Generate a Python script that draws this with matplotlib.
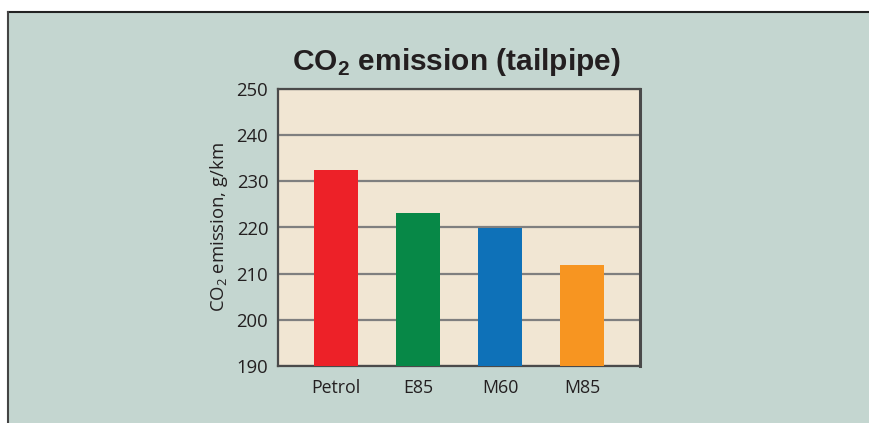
import matplotlib
matplotlib.use("Agg")
import matplotlib.pyplot as plt
import numpy as np

plt.rcParams["mathtext.fontset"] = "custom"
plt.rcParams["mathtext.rm"] = "Open Sans"
plt.rcParams["mathtext.bf"] = "Liberation Sans:bold"

categories = ["Petrol", "E85", "M60", "M85"]
values = [232.4, 223.2, 219.9, 211.8]
bar_colors = ["#ed2128", "#078847", "#0e71b8", "#f79521"]
yticks = [190, 200, 210, 220, 230, 240, 250]

W, H = 869, 423
fig = plt.figure(figsize=(W / 100, H / 100), dpi=100)
fig.patch.set_facecolor("white")

# background panel with top/left border
panel = plt.Rectangle((8 / W, 0), 1 - 8 / W, 1 - 12 / H, transform=fig.transFigure,
                      facecolor="#c4d6d0", edgecolor="none", zorder=-5)
fig.add_artist(panel)
fig.add_artist(plt.Line2D([8 / W, 1], [1 - 12 / H, 1 - 12 / H], transform=fig.transFigure,
                          color="#222222", lw=1.5, zorder=-4))
fig.add_artist(plt.Line2D([8 / W, 8 / W], [0, 1 - 12 / H], transform=fig.transFigure,
                          color="#444444", lw=1.5, zorder=-4))

left, right, top, bottom = 278, 640, 89, 366
ax = fig.add_axes([left / W, 1 - bottom / H, (right - left) / W, (bottom - top) / H])
ax.set_zorder(1)
ax.set_facecolor("#f1e6d3")

x = np.arange(len(categories))
ax.bar(x, [v - 190 for v in values], bottom=190, width=0.54, color=bar_colors, zorder=3)
ax.set_xlim(-0.707, 3.707)
ax.set_ylim(190, 250)
ax.set_yticks(yticks)
ax.set_xticks(x)
ax.set_xticklabels(categories)
ax.yaxis.grid(True, color="#7f7f7f", lw=1.6, zorder=1)
ax.set_axisbelow(True)
ax.tick_params(axis="y", length=0, labelsize=13.3, colors="#231f20", pad=7)
ax.tick_params(axis="x", length=0, labelsize=12.8, colors="#231f20", pad=9)
for lab in ax.get_xticklabels() + ax.get_yticklabels():
    lab.set_family(["Open Sans", "DejaVu Sans"])
for s in ax.spines.values():
    s.set_color("#4a4a4a")
    s.set_linewidth(1.6)
ax.spines["right"].set_linewidth(2.2)

ax.set_ylabel("CO$_2$ emission, g/km", fontsize=13.3, color="#231f20",
              family=["Open Sans", "DejaVu Sans"], labelpad=5)

fig.text(456 / W, 1 - 62 / H, r"CO$_\mathbf{2}$ emission (tailpipe)", ha="center", va="center",
         fontsize=21.5, fontweight="bold", color="#231f20", family=["Liberation Sans", "DejaVu Sans"])

fig.savefig("out.png", dpi=100, facecolor=fig.get_facecolor())
